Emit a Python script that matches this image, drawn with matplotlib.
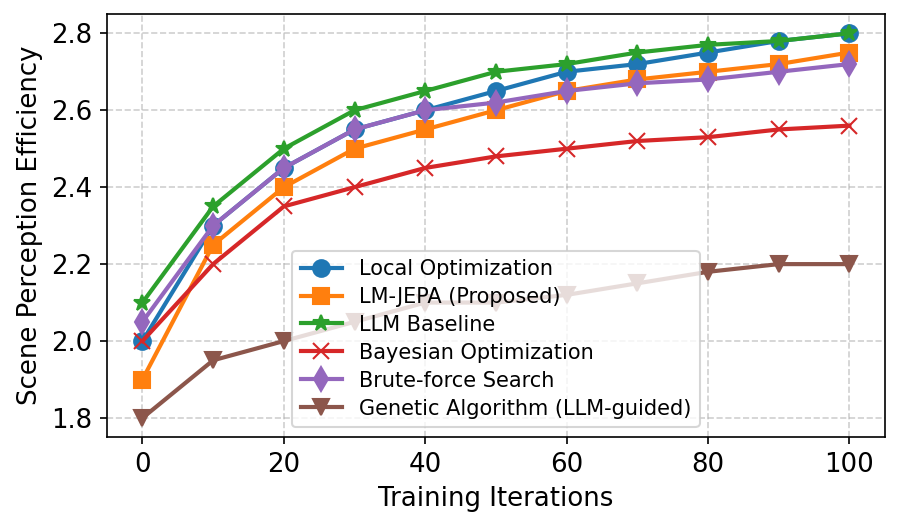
import matplotlib
matplotlib.use("Agg")
import matplotlib.pyplot as plt

iterations = [0, 10, 20, 30, 40, 50, 60, 70, 80, 90, 100]
local_opt = [2.0, 2.3, 2.45, 2.55, 2.6, 2.65, 2.7, 2.72, 2.75, 2.78, 2.8]
lm_jepa = [1.9, 2.25, 2.4, 2.5, 2.55, 2.6, 2.65, 2.68, 2.7, 2.72, 2.75]
llm_baseline = [2.1, 2.35, 2.5, 2.6, 2.65, 2.7, 2.72, 2.75, 2.77, 2.78, 2.8]
bayesian = [2.0, 2.2, 2.35, 2.4, 2.45, 2.48, 2.5, 2.52, 2.53, 2.55, 2.56]
brute_force = [2.05, 2.3, 2.45, 2.55, 2.6, 2.62, 2.65, 2.67, 2.68, 2.7, 2.72]
genetic = [1.8, 1.95, 2.0, 2.05, 2.1, 2.1, 2.12, 2.15, 2.18, 2.2, 2.2]

series = [
    ("Local Optimization", local_opt, "o"),
    ("LM-JEPA (Proposed)", lm_jepa, "s"),
    ("LLM Baseline", llm_baseline, "*"),
    ("Bayesian Optimization", bayesian, "x"),
    ("Brute-force Search", brute_force, "d"),
    ("Genetic Algorithm (LLM-guided)", genetic, "v"),
]

fig, ax = plt.subplots(figsize=(6, 3.487), dpi=150)
for name, vals, m in series:
    ax.plot(iterations, vals, marker=m, markersize=8, linewidth=2, label=name)

ax.set_xlabel("Training Iterations", fontsize=12.5)
ax.set_ylabel("Scene Perception Efficiency", fontsize=12.5)
ax.tick_params(labelsize=12.5)
ax.grid(True, linestyle="--", alpha=0.6)
ax.legend(loc="lower center", fontsize=10, labelspacing=0.38)
fig.subplots_adjust(left=0.119, right=0.983, top=0.973, bottom=0.164)
fig.savefig("out.png", dpi=150)
